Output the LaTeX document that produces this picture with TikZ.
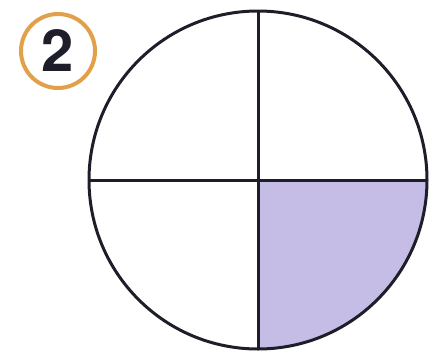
\documentclass[tikz,border=0pt]{standalone}
\usepackage{fontspec}
\setmainfont{TeX Gyre Heros}
\definecolor{quarterfill}{HTML}{C5BDE6}
\definecolor{ringcol}{HTML}{E2A04A}
\definecolor{inkcol}{HTML}{1E1E2A}
\begin{document}
\begin{tikzpicture}[x=1pt,y=-1pt,
  divline/.style={draw=inkcol,line width=3pt},
  badge/.style={circle,draw=ringcol,line width=4pt,minimum size=74pt,inner sep=0pt,font=\fontsize{58}{58}\selectfont\bfseries,text=inkcol}]
\useasboundingbox (0,0) rectangle (434,354);
\coordinate (c) at (258,180);
\fill[quarterfill] (c) -- (427,180) arc[start angle=0,end angle=90,radius=169] -- cycle;
\draw[divline] (c) circle[radius=169];
\coordinate (top) at (258,11);
\coordinate (bot) at (258,349);
\coordinate (lft) at (89,180);
\coordinate (rgt) at (427,180);
\draw[divline] (top) -- (bot);
\draw[divline] (lft) -- (rgt);
\node[badge] (b) at (58,51) {2};
\end{tikzpicture}
\end{document}
